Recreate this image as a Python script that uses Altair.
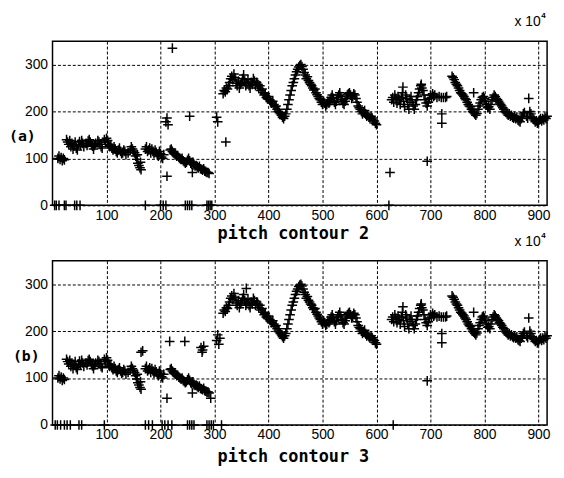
import altair as alt
import pandas as pd

# ---- shared voiced segments (frame index, pitch) ----
s1_x = [10, 12, 14, 16, 18, 20, 22]
s1_y = [100, 105, 98, 102, 95, 100, 97]

s2_x = [26, 28, 30, 32, 34, 36, 38, 40, 42, 44, 46, 48, 50, 52, 54, 56, 58, 62, 64, 66, 68, 70, 72, 74, 76,
        78, 80, 84, 86, 88, 90, 92, 96, 98, 100, 102, 104, 106, 108, 110, 112, 114, 116, 118, 120, 122, 124,
        126, 128, 130, 132, 134, 136, 140, 144, 146, 148, 150, 152, 154, 156, 158, 160, 162, 164, 163, 157]
s2_y = [140, 135, 130, 138, 125, 132, 120, 128, 135, 122, 118, 130, 136, 128, 138, 132, 125, 132, 128, 137,
        140, 135, 130, 126, 120, 128, 132, 138, 135, 130, 125, 122, 140, 135, 143, 138, 130, 125, 128, 122,
        118, 125, 120, 115, 112, 118, 122, 115, 110, 112, 118, 115, 108, 112, 118, 125, 120, 116, 112, 105,
        98, 90, 85, 80, 76, 92, 108]

s3_x = [172, 174, 176, 178, 180, 182, 184, 186, 188, 190, 192, 194, 196, 198, 200, 202, 204, 206]
s3_y = [120, 125, 115, 118, 122, 112, 120, 115, 110, 118, 113, 108, 105, 115, 110, 103, 100, 108]

s4_x = [218, 220, 222, 224, 226, 228, 230, 232, 234, 236, 238, 240, 242, 244, 246, 248, 250, 252, 254, 256,
        258, 260, 262, 264, 266, 268, 270, 272, 274, 276, 278, 280, 282, 284, 286, 288, 290]
s4_y = [118, 120, 115, 112, 110, 108, 105, 106, 102, 100, 98, 100, 95, 93, 90, 92, 96, 100, 95, 90,
        88, 92, 86, 84, 85, 82, 80, 83, 78, 77, 75, 78, 73, 72, 70, 70, 68]

s5_x = [316, 318, 320, 322, 324, 326, 328, 330, 332, 334, 336, 338, 340, 342, 344, 346, 348, 350, 352, 354,
        356, 358, 360, 362, 364, 366, 368, 370, 372, 374, 376, 378, 380, 382, 384, 386, 388, 390, 392, 394,
        396, 398, 400, 402, 404, 406, 408, 410, 412, 414, 416, 418, 420, 422, 424, 426, 428, 430,
        432, 434, 436, 438, 440, 442, 444, 446, 448, 450, 452, 454, 456, 458, 460, 462, 464, 466, 468, 470,
        472, 474, 476, 478, 480, 482, 484, 486, 488, 490, 492, 494, 496, 498, 500, 502, 504, 506, 508, 510,
        512, 514, 516, 518, 520, 522, 524, 526, 528, 530, 532, 534, 536, 538, 540, 542, 544, 546, 548, 550,
        552, 554, 556, 558, 560, 562, 564, 566, 568, 570, 572, 574, 576, 578, 580, 582, 584, 586, 588, 590,
        592, 594, 596, 598, 600]
s5_y = [238, 245, 242, 250, 248, 255, 262, 270, 275, 268, 280, 272, 260, 255, 265, 250, 258, 262, 270, 278,
        265, 255, 260, 268, 255, 250, 262, 258, 270, 265, 255, 262, 258, 250, 255, 245, 248, 240, 235, 238,
        230, 228, 232, 225, 222, 218, 222, 215, 210, 212, 205, 200, 198, 195, 192, 188, 185, 190,
        195, 205, 215, 225, 235, 245, 255, 262, 270, 278, 285, 290, 295, 298, 300, 296, 290, 283, 278, 270,
        274, 266, 262, 258, 255, 250, 246, 248, 240, 236, 232, 228, 225, 220, 215, 222, 218, 212, 215, 222,
        218, 225, 230, 235, 228, 220, 215, 222, 230, 235, 240, 232, 225, 218, 215, 222, 228, 235, 238, 240,
        235, 228, 232, 238, 235, 228, 220, 212, 208, 205, 200, 195, 198, 202, 195, 190, 192, 188, 185, 190,
        186, 182, 180, 175, 172]

s6_x = [628, 630, 632, 634, 636, 638, 640, 642, 644, 646, 648, 650, 652, 654, 656, 658, 660, 662, 664, 666,
        668, 670, 672, 674, 676, 678, 680, 682, 684, 686, 688, 690, 692, 694, 696, 698, 700, 702, 704, 706,
        708, 712, 716, 720, 724, 730]
s6_y = [225, 230, 220, 235, 228, 218, 232, 225, 215, 230, 240, 222, 210, 235, 228, 215, 205, 225, 232, 220,
        212, 205, 215, 225, 232, 240, 248, 255, 250, 245, 235, 225, 218, 212, 220, 228, 235, 230, 238, 232,
        235, 230, 232, 230, 230, 232]

s7_x = [740, 742, 744, 746, 748, 750, 752, 754, 756, 758, 760, 762, 764, 766, 768, 770, 772, 774, 776, 778,
        780, 782, 784, 786, 788, 790, 792, 794, 796, 798, 800, 802, 804, 806, 808, 810, 812, 814, 816, 818,
        820, 822, 824, 826, 828, 830, 832, 834, 836, 838, 840, 842, 844, 846, 848, 850, 852, 854, 856, 858,
        860, 862, 864, 866, 868, 870, 872, 874, 878, 880, 884, 886, 888, 890, 892, 894, 896, 898, 900,
        902, 904, 906, 908, 910, 912, 914, 916, 780]
s7_y = [275, 272, 268, 262, 258, 255, 250, 245, 240, 238, 235, 232, 228, 225, 220, 215, 212, 210, 205, 200,
        198, 195, 192, 196, 205, 212, 218, 225, 230, 232, 228, 222, 215, 208, 210, 205, 215, 225, 230, 235,
        232, 228, 225, 222, 218, 215, 212, 208, 205, 200, 198, 195, 192, 195, 190, 192, 188, 186, 190, 185,
        188, 182, 180, 178, 185, 190, 195, 198, 190, 186, 200, 195, 188, 185, 182, 178, 180, 175, 178,
        182, 185, 180, 185, 182, 188, 185, 190, 240]

common_x = [649, 683, 694, 721, 721, 728, 882]
common_y = [252, 258, 94, 195, 175, 230, 228]

# ---- contour-specific points ----
a_x = [222, 212, 210, 212, 214, 254, 259, 304, 306, 321, 625]
a_y = [335, 62, 178, 186, 172, 190, 70, 188, 178, 135, 70]
a_zero_x = [4, 7, 12, 22, 25, 41, 45, 51, 172, 200, 205, 210, 246, 250, 254, 258, 286, 289, 292, 295, 623]

b_x = [164, 167, 217, 212, 245, 275, 278, 280, 277, 304, 306, 308, 310, 259, 293, 359]
b_y = [155, 158, 178, 57, 178, 165, 160, 168, 155, 180, 192, 172, 185, 68, 57, 291]
b_zero_x = [5, 9, 15, 22, 27, 33, 49, 54, 96, 172, 178, 185, 203, 208, 214, 221, 250, 254, 258, 262,
            286, 290, 294, 298, 313, 631]

X_TICKS = [100, 200, 300, 400, 500, 600, 700, 800, 900]
Y_TICKS = [0, 100, 200, 300]

base_x = s1_x + s2_x + s3_x + s4_x + s5_x + s6_x + s7_x + common_x
base_y = s1_y + s2_y + s3_y + s4_y + s5_y + s6_y + s7_y + common_y


def make_df(extra_x, extra_y, zero_x):
    xs = base_x + extra_x + zero_x
    ys = base_y + extra_y + [0] * len(zero_x)
    return pd.DataFrame({"x": xs, "y": ys})


PLUS = "M-1,0L1,0M0,-1L0,1"
W, H = 500, 166


def text_layer(txt, x, y, size, font, weight="normal", align="left"):
    return alt.Chart(pd.DataFrame({"t": [txt]})).mark_text(
        font=font, fontSize=size, fontWeight=weight, color="black", align=align, baseline="middle"
    ).encode(text="t:N", x=alt.value(x), y=alt.value(y))


def panel(df, label, label_x, title, title_y):
    pts = alt.Chart(df).mark_point(
        shape=PLUS, filled=False, color="black", strokeWidth=1.5, size=95, opacity=1
    ).encode(
        x=alt.X("x:Q", scale=alt.Scale(domain=[0, 916], nice=False, zero=False),
                axis=alt.Axis(values=X_TICKS, grid=True, gridColor="black", gridDash=[3, 2],
                              gridWidth=1, gridOpacity=1, domain=False, ticks=False,
                              labelFont="Liberation Sans", labelFontSize=14, labelColor="black",
                              labelPadding=3, title=title, titleFont="DejaVu Sans Mono",
                              titleFontSize=17, titleFontWeight="bold", titleColor="black",
                              titleX=243, titleY=title_y, titleAlign="center",
                              titleBaseline="alphabetic")),
        y=alt.Y("y:Q", scale=alt.Scale(domain=[0, 350], nice=False),
                axis=alt.Axis(values=Y_TICKS, grid=True, gridColor="black", gridDash=[3, 2],
                              gridWidth=1, gridOpacity=1, domain=False, ticks=False,
                              labelFont="Liberation Sans", labelFontSize=14, labelColor="black",
                              labelPadding=5, title=None)),
    )
    lab = text_layer(label, label_x, 96, 15, "DejaVu Sans Mono", "bold")
    x10 = text_layer("x 10", W - 33, -19, 14, "Liberation Sans")
    sup = text_layer("4", W - 6, -25, 8, "Liberation Sans", "bold")
    return alt.layer(pts, lab, x10, sup).properties(width=W, height=H)


pa = panel(make_df(a_x, a_y, a_zero_x), "(a)", -44, "pitch contour 2", 34)
pb = panel(make_df(b_x, b_y, b_zero_x), "(b)", -40, "pitch contour 3", 37)

chart = alt.vconcat(pa, pb, spacing=56, bounds="flush").properties(
    padding={"left": 0, "top": 1, "right": 0, "bottom": 0}, background="white"
).configure_view(stroke="black", strokeWidth=1.5)

chart.save("out.html", embed_options={"renderer": "svg", "actions": False})
